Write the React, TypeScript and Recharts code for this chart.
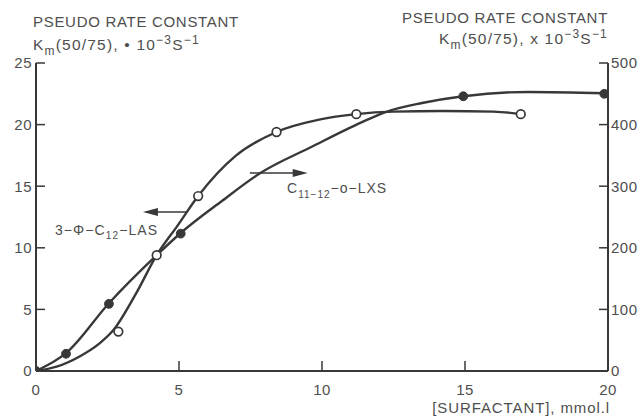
import React from 'react';
import { ComposedChart, Line, Scatter, XAxis, YAxis, ReferenceLine, ReferenceDot } from 'recharts';

// ---------- data ----------
const xTicks = [0, 5, 10, 15, 20];
const leftTicks = [0, 5, 10, 15, 20, 25];
const rightTicks = [0, 100, 200, 300, 400, 500];

// 3-Φ-C12-LAS (open circles, left axis)
const lasPointX = [2.88, 4.22, 5.67, 8.41, 11.2, 16.95];
const lasPointY = [3.2, 9.4, 14.2, 19.4, 20.85, 20.85];
// fitted curve drawn through the LAS data
const lasCurveX = [0, 0.72, 1.54, 2.2, 2.7, 3.5, 4.22, 4.95, 5.67, 7.0, 8.41, 9.9, 11.2, 12.5, 14.2, 16.0, 17.0];
const lasCurveY = [0, 0.35, 1.2, 2.2, 3.3, 6.3, 9.4, 11.8, 14.2, 17.5, 19.4, 20.4, 20.85, 21.05, 21.1, 21.05, 20.85];

// C11-12-o-LXS (filled circles, right axis)
const lxsPointX = [0, 1.05, 2.55, 5.06, 14.94, 19.87];
const lxsPointY = [0, 28, 109, 223, 446, 450];
// fitted curve drawn through the LXS data
const lxsCurveX = [0, 1.05, 2.55, 4.22, 5.06, 6.5, 7.83, 9.64, 11.4, 12.2, 13.5, 14.94, 17.2, 19.9];
const lxsCurveY = [0, 29, 110, 188, 224, 276, 321, 364, 404, 420, 435, 446, 453, 451];

const zip = (xs: number[], ys: number[]) => xs.map((x, i) => ({ x, y: ys[i] }));
const lasPoints = zip(lasPointX, lasPointY);
const lasCurve = zip(lasCurveX, lasCurveY);
const lxsPoints = zip(lxsPointX, lxsPointY);
const lxsCurve = zip(lxsCurveX, lxsCurveY);

// ---------- style ----------
const FONT = "'Liberation Sans', Arial, Helvetica, sans-serif";
const TEXT = '#4e4e4e';
const INK = '#383838';
const W = 643;
const H = 417;

const tickStyle = { fontFamily: FONT, fontSize: 15, fill: TEXT, letterSpacing: 0.5 };

const OpenDot = (p: any) => (
  <circle cx={p.cx} cy={p.cy} r={4.3} fill="#fff" stroke={INK} strokeWidth={1.7} />
);
const FilledDot = (p: any) => <circle cx={p.cx} cy={p.cy} r={4.4} fill={INK} stroke={INK} />;

const Arrow = (p: any) => {
  const { x1, y1, x2, y2 } = p;
  const dir = x2 > x1 ? 1 : -1;
  return (
    <g>
      <line x1={x1} y1={y1} x2={x2 - dir * 10} y2={y2} stroke={INK} strokeWidth={1.6} />
      <polygon
        points={`${x2},${y2} ${x2 - dir * 15},${y2 - 4} ${x2 - dir * 15},${y2 + 4}`}
        fill={INK}
      />
    </g>
  );
};

const LasLabel = (p: any) => (
  <text x={p.cx} y={p.cy + 5} fontFamily={FONT} fontSize={14} fill={TEXT} letterSpacing={1.1}>
    3−Φ−C<tspan dy={4} fontSize={10}>12</tspan>
    <tspan dy={-4}>−LAS</tspan>
  </text>
);

const LxsLabel = (p: any) => (
  <text x={p.cx} y={p.cy + 5} fontFamily={FONT} fontSize={14} fill={TEXT} letterSpacing={1}>
    C<tspan dy={5} fontSize={10}>11−12</tspan>
    <tspan dy={-5}>−o−LXS</tspan>
  </text>
);

export default function App() {
  return (
    <div style={{ position: 'absolute', left: 0, top: 0, width: W, height: H }}>
      <ComposedChart width={W} height={H} margin={{ top: 63, right: 0, bottom: 0, left: 0 }}>
        <XAxis
          dataKey="x"
          type="number"
          domain={[0, 20]}
          ticks={xTicks}
          allowDataOverflow
          height={46}
          tickSize={-10}
          tickMargin={23}
          tick={tickStyle}
          stroke={INK}
          axisLine={{ stroke: INK, strokeWidth: 2 }}
          tickLine={{ stroke: INK, strokeWidth: 1.5 }}
        />
        <YAxis
          yAxisId="L"
          orientation="left"
          type="number"
          domain={[0, 25]}
          ticks={leftTicks}
          allowDataOverflow
          width={36}
          tickSize={-9}
          tickMargin={13}
          tick={tickStyle}
          axisLine={{ stroke: INK, strokeWidth: 2 }}
          tickLine={{ stroke: INK, strokeWidth: 1.5 }}
        />
        <YAxis
          yAxisId="R"
          orientation="right"
          type="number"
          domain={[0, 500]}
          ticks={rightTicks}
          allowDataOverflow
          width={35}
          tickSize={-9}
          tickMargin={12}
          tick={{ ...tickStyle, textAnchor: 'start' }}
          axisLine={{ stroke: INK, strokeWidth: 2 }}
          tickLine={{ stroke: INK, strokeWidth: 1.5 }}
        />

        <Line
          yAxisId="L"
          data={lasCurve}
          dataKey="y"
          type="monotone"
          stroke={INK}
          strokeWidth={2.4}
          dot={false}
          activeDot={false}
          isAnimationActive={false}
        />
        <Line
          yAxisId="R"
          data={lxsCurve}
          dataKey="y"
          type="monotone"
          stroke={INK}
          strokeWidth={2.4}
          dot={false}
          activeDot={false}
          isAnimationActive={false}
        />
        <Scatter
          yAxisId="L"
          data={lasPoints}
          dataKey="y"
          shape={OpenDot}
          isAnimationActive={false}
        />
        <Scatter
          yAxisId="R"
          data={lxsPoints}
          dataKey="y"
          shape={FilledDot}
          isAnimationActive={false}
        />

        <ReferenceLine
          yAxisId="L"
          segment={[{ x: 5.28, y: 12.9 }, { x: 3.74, y: 12.9 }]}
          shape={Arrow}
        />
        <ReferenceLine
          yAxisId="L"
          segment={[{ x: 7.48, y: 16.07 }, { x: 9.5, y: 16.07 }]}
          shape={Arrow}
        />
        <ReferenceDot yAxisId="L" x={0.66} y={11.45} shape={LasLabel} />
        <ReferenceDot yAxisId="L" x={8.78} y={14.85} shape={LxsLabel} />
      </ComposedChart>

      <svg
        width={W}
        height={H}
        style={{ position: 'absolute', left: 0, top: 0, pointerEvents: 'none' }}
      >
        <g fontFamily={FONT} fill={TEXT} fontSize={15} letterSpacing={0.7}>
          <text x={33} y={27}>PSEUDO RATE CONSTANT</text>
          <text x={33} y={50} letterSpacing={1.2} fontSize={15.5}>
            K<tspan dy={5} fontSize={12}>m</tspan>
            <tspan dy={-5}>(50/75), • 10</tspan>
            <tspan dy={-6} fontSize={12}>−3</tspan>
            <tspan dy={6}>S</tspan>
            <tspan dy={-6} fontSize={12}>−1</tspan>
          </text>
          <text x={608} y={23} textAnchor="end">PSEUDO RATE CONSTANT</text>
          <text x={608} y={44} textAnchor="end" letterSpacing={1.2} fontSize={15.5}>
            K<tspan dy={5} fontSize={12}>m</tspan>
            <tspan dy={-5}>(50/75), x 10</tspan>
            <tspan dy={-6} fontSize={12}>−3</tspan>
            <tspan dy={6}>S</tspan>
            <tspan dy={-6} fontSize={12}>−1</tspan>
          </text>
          <text x={610} y={413} textAnchor="end" fontSize={15} letterSpacing={0.9}>
            [SURFACTANT], mmol.l
          </text>
        </g>
      </svg>
    </div>
  );
}
